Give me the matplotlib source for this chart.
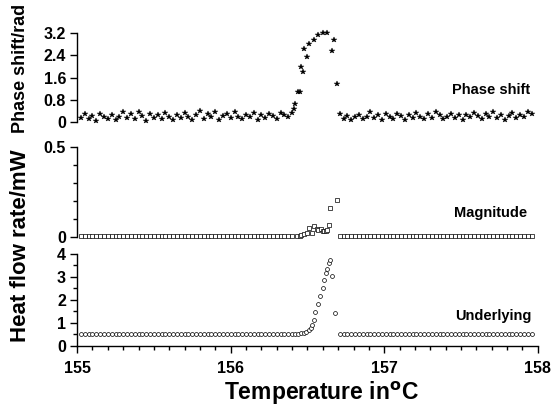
import matplotlib
matplotlib.use("Agg")
from matplotlib import pyplot as plt
from matplotlib.ticker import MultipleLocator

plt.rcParams['font.family'] = ['Liberation Sans', 'DejaVu Sans']
plt.rcParams['font.weight'] = 'bold'

# temperature readings of the flat parts (before / after the melting peak)
temp_left = [155.025, 155.05, 155.075, 155.1, 155.125, 155.15, 155.175, 155.2, 155.225, 155.25,
             155.275, 155.3, 155.325, 155.35, 155.375, 155.4, 155.425, 155.45, 155.475, 155.5,
             155.525, 155.55, 155.575, 155.6, 155.625, 155.65, 155.675, 155.7, 155.725, 155.75,
             155.775, 155.8, 155.825, 155.85, 155.875, 155.9, 155.925, 155.95, 155.975, 156.0,
             156.025, 156.05, 156.075, 156.1, 156.125, 156.15, 156.175, 156.2, 156.225, 156.25,
             156.275, 156.3, 156.325, 156.35, 156.375, 156.4]
temp_right = [156.71, 156.735, 156.76, 156.785, 156.81, 156.835, 156.86, 156.885, 156.91, 156.935,
              156.96, 156.985, 157.01, 157.035, 157.06, 157.085, 157.11, 157.135, 157.16, 157.185,
              157.21, 157.235, 157.26, 157.285, 157.31, 157.335, 157.36, 157.385, 157.41, 157.435,
              157.46, 157.485, 157.51, 157.535, 157.56, 157.585, 157.61, 157.635, 157.66, 157.685,
              157.71, 157.735, 157.76, 157.785, 157.81, 157.835, 157.86, 157.885, 157.91, 157.935,
              157.96]

# phase shift / rad
phase_left = [0.15, 0.28, 0.10, 0.22, 0.05, 0.30, 0.18, 0.12, 0.25, 0.08,
              0.20, 0.35, 0.15, 0.28, 0.10, 0.38, 0.22, 0.05, 0.30, 0.16,
              0.26, 0.12, 0.33, 0.20, 0.08, 0.27, 0.14, 0.31, 0.18, 0.06,
              0.24, 0.40, 0.12, 0.29, 0.17, 0.35, 0.09, 0.22, 0.30, 0.14,
              0.36, 0.20, 0.11, 0.27, 0.18, 0.33, 0.08, 0.25, 0.15, 0.30,
              0.21, 0.10, 0.34, 0.26, 0.18, 0.32]
phase_right = [0.30, 0.12, 0.22, 0.08, 0.18, 0.26, 0.10, 0.20, 0.35, 0.15,
               0.24, 0.06, 0.28, 0.18, 0.12, 0.30, 0.22, 0.09, 0.26, 0.16,
               0.32, 0.20, 0.11, 0.28, 0.14, 0.38, 0.24, 0.10, 0.19, 0.30,
               0.13, 0.25, 0.07, 0.27, 0.17, 0.33, 0.21, 0.12, 0.29, 0.18,
               0.36, 0.15, 0.24, 0.08, 0.22, 0.31, 0.14, 0.27, 0.19, 0.35,
               0.28]
phase_peak_t = [156.41, 156.42, 156.44, 156.45, 156.46, 156.47, 156.48, 156.50,
                156.51, 156.54, 156.57, 156.60, 156.63, 156.66, 156.67, 156.69]
phase_peak = [0.47, 0.64, 1.07, 1.07, 1.98, 1.80, 2.64, 2.33,
              2.82, 2.94, 3.13, 3.19, 3.19, 2.56, 2.96, 1.35]

# magnitude / mW
mag_left = [0.005, 0.004, 0.006, 0.005, 0.004, 0.005, 0.006, 0.005, 0.004, 0.005,
            0.005, 0.006, 0.004, 0.005, 0.005, 0.004, 0.006, 0.005, 0.005, 0.004,
            0.005, 0.006, 0.005, 0.004, 0.005, 0.005, 0.006, 0.004, 0.005, 0.005,
            0.004, 0.006, 0.005, 0.005, 0.004, 0.005, 0.006, 0.005, 0.004, 0.005,
            0.005, 0.006, 0.004, 0.005, 0.005, 0.004, 0.006, 0.005, 0.005, 0.004,
            0.005, 0.006, 0.005, 0.005, 0.006, 0.006]
mag_right = [0.005, 0.004, 0.005, 0.006, 0.005, 0.004, 0.005, 0.005, 0.006, 0.004,
             0.005, 0.005, 0.004, 0.006, 0.005, 0.005, 0.004, 0.005, 0.006, 0.005,
             0.004, 0.005, 0.005, 0.006, 0.005, 0.004, 0.005, 0.006, 0.005, 0.005,
             0.006, 0.005, 0.006, 0.006, 0.005, 0.007, 0.006, 0.005, 0.007, 0.006,
             0.007, 0.005, 0.007, 0.006, 0.007, 0.006, 0.007, 0.005, 0.007, 0.006,
             0.007]
mag_peak_t = [156.43, 156.45, 156.46, 156.48, 156.50, 156.51, 156.53, 156.54, 156.56,
              156.57, 156.59, 156.60, 156.61, 156.62, 156.63, 156.64, 156.65, 156.69]
mag_peak = [0.006, 0.007, 0.012, 0.016, 0.022, 0.050, 0.020, 0.062, 0.044,
            0.038, 0.044, 0.035, 0.035, 0.031, 0.040, 0.068, 0.160, 0.207]

# underlying heat flow / mW
under_left = [0.50, 0.49, 0.50, 0.51, 0.50, 0.49, 0.50, 0.50, 0.51, 0.50,
              0.49, 0.50, 0.50, 0.51, 0.50, 0.49, 0.50, 0.50, 0.51, 0.50,
              0.50, 0.49, 0.50, 0.51, 0.50, 0.50, 0.49, 0.50, 0.51, 0.50,
              0.50, 0.49, 0.50, 0.50, 0.51, 0.50, 0.49, 0.50, 0.50, 0.51,
              0.50, 0.49, 0.50, 0.50, 0.51, 0.50, 0.50, 0.49, 0.50, 0.51,
              0.50, 0.50, 0.50, 0.51, 0.50, 0.51]
under_right = [0.50, 0.49, 0.50, 0.50, 0.51, 0.50, 0.49, 0.50, 0.50, 0.51,
               0.50, 0.49, 0.50, 0.50, 0.51, 0.50, 0.50, 0.49, 0.50, 0.51,
               0.50, 0.50, 0.49, 0.50, 0.51, 0.50, 0.50, 0.49, 0.50, 0.51,
               0.50, 0.50, 0.49, 0.50, 0.51, 0.50, 0.50, 0.49, 0.50, 0.51,
               0.50, 0.50, 0.49, 0.50, 0.51, 0.50, 0.50, 0.49, 0.50, 0.51,
               0.50]
under_peak_t = [156.42, 156.44, 156.46, 156.48, 156.49, 156.51, 156.52, 156.53, 156.54, 156.55,
                156.57, 156.58, 156.60, 156.61, 156.62, 156.63, 156.64, 156.65, 156.66, 156.68]
under_peak = [0.51, 0.52, 0.53, 0.55, 0.59, 0.66, 0.76, 0.90, 1.13, 1.47,
              1.80, 2.16, 2.50, 2.85, 3.15, 3.35, 3.60, 3.75, 3.05, 1.40]

fig = plt.figure(figsize=(5.51, 4.07), dpi=100)
ax_ph = fig.add_axes([0.140, 0.700, 0.836, 0.219])
ax_mg = fig.add_axes([0.140, 0.418, 0.836, 0.221])
ax_un = fig.add_axes([0.140, 0.151, 0.836, 0.225])

ax_ph.plot(temp_left + phase_peak_t + temp_right, phase_left + phase_peak + phase_right,
           ls='none', marker='*', ms=3.8, color='black', mew=0.3, clip_on=False)
ax_mg.plot(temp_left + mag_peak_t + temp_right, mag_left + mag_peak + mag_right, ls='none',
           marker='s', ms=2.6, mfc='white', mec='black', mew=0.5, clip_on=False)
ax_un.plot(temp_left + under_peak_t + temp_right, under_left + under_peak + under_right, ls='none',
           marker='o', ms=2.8, mfc='white', mec='black', mew=0.5, clip_on=False)

ax_ph.set_ylim(0, 3.2)
ax_ph.set_yticks([0, 0.8, 1.6, 2.4, 3.2], ['0', '0.8', '1.6', '2.4', '3.2'])
ax_mg.set_ylim(0, 0.5)
ax_mg.set_yticks([0, 0.5], ['0', '0.5'])
ax_mg.yaxis.set_minor_locator(MultipleLocator(0.1))
ax_un.set_ylim(0, 4)
ax_un.set_yticks([0, 1, 2, 3, 4])
ax_un.yaxis.set_minor_locator(MultipleLocator(0.5))

for ax in (ax_ph, ax_mg, ax_un):
    ax.set_xlim(155, 158)
    for s in ('top', 'right', 'bottom'):
        ax.spines[s].set_visible(False)
    ax.spines['left'].set_linewidth(1.0)
    ax.tick_params(axis='y', direction='out', length=5, width=1.0, labelsize=11.5, pad=3)
    ax.tick_params(axis='y', which='minor', direction='out', length=3, width=1.0)
    ax.tick_params(axis='x', which='both', bottom=False, labelbottom=False)
    ax.patch.set_visible(False)

ax_un.spines['bottom'].set_visible(True)
ax_un.spines['bottom'].set_linewidth(1.0)
ax_un.set_xticks([155, 156, 157, 158])
ax_un.xaxis.set_minor_locator(MultipleLocator(0.1))
ax_un.tick_params(axis='x', which='major', bottom=True, labelbottom=True, direction='out',
                  length=5, width=1.0, labelsize=11.5, pad=6)
ax_un.tick_params(axis='x', which='minor', bottom=True, direction='out', length=3, width=1.0)

ax_ph.text(157.95, 1.15, 'Phase shift', ha='right', va='center', fontsize=10.5)
ax_mg.text(157.93, 0.135, 'Magnitude', ha='right', va='center', fontsize=10.5)
ax_un.text(157.96, 1.3, 'Underlying', ha='right', va='center', fontsize=10.5)

fig.text(0.038, 0.832, 'Phase shift/rad', rotation=90, ha='center', va='center', fontsize=13)
fig.text(0.038, 0.397, 'Heat flow rate/mW', rotation=90, ha='center', va='center', fontsize=16)
fig.text(0.583, 0.033, 'Temperature in$^{\\mathbf{o}}$C', ha='center', va='center', fontsize=16.5)

fig.savefig('out.png', dpi=100)
